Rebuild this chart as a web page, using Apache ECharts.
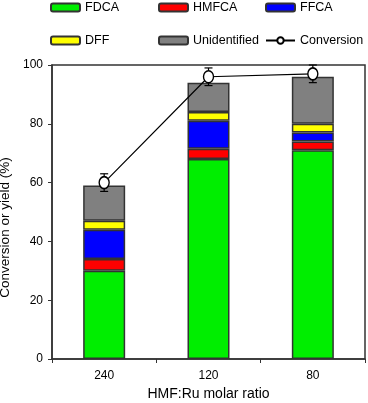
<!DOCTYPE html>
<html>
<head>
<meta charset="utf-8">
<script src="https://cdn.jsdelivr.net/npm/echarts@6/dist/echarts.min.js"></script>
<style>
  html, body { margin: 0; padding: 0; background: #fff; }
  #chart { width: 368px; height: 403px; }
</style>
</head>
<body>
<div id="chart"></div>
<script>
const ratios = ['240', '120', '80'];
const fdca = [30, 68, 71];
const hmfca = [4, 3.5, 3];
const ffca = [10, 9.5, 3];
const dff = [3, 3, 3];
const unidentified = [12, 10, 16];
const conversion = [60, 96, 97];
const conversionErr = [3, 3, 3];
const yTicks = [0, 20, 40, 60, 80, 100];

const font = 'Liberation Sans, Arial, Helvetica, sans-serif';
const edge = '#333';

function barSeries(name, color, data) {
  return {
    name: name,
    type: 'bar',
    stack: 'yield',
    barWidth: 42,
    data: data,
    itemStyle: { color: color, borderColor: edge, borderWidth: 1.5 },
    z: 2
  };
}

function legendAt(name, left, top) {
  return {
    data: [name],
    left: left,
    top: top,
    itemWidth: 29,
    itemHeight: 8,
    itemGap: 0,
    padding: 0,
    selectedMode: false,
    textStyle: { fontFamily: font, fontSize: 12.5, color: '#000' }
  };
}

const chart = echarts.init(document.getElementById('chart'), null, { renderer: 'canvas' });
chart.setOption({
  animation: false,
  backgroundColor: '#fff',
  legend: [
    legendAt('FDCA', 50, 1),
    legendAt('HMFCA', 158, 1),
    legendAt('FFCA', 265, 1),
    legendAt('DFF', 50, 34),
    legendAt('Unidentified', 158, 34),
    legendAt('Conversion', 265, 34)
  ],
  grid: {
    left: 52, right: 3, top: 65, bottom: 44,
    outerBoundsMode: 'none',
    containLabel: false,
    show: true, borderColor: edge, borderWidth: 1.5, backgroundColor: 'transparent'
  },
  xAxis: {
    type: 'category',
    data: ratios,
    boundaryGap: true,
    name: 'HMF:Ru molar ratio',
    nameLocation: 'middle',
    nameGap: 27,
    nameTextStyle: { fontFamily: font, fontSize: 14, color: '#000' },
    axisLine: { lineStyle: { color: edge, width: 1.5 } },
    axisTick: { show: true, alignWithLabel: false, length: 4, lineStyle: { color: edge } },
    axisLabel: { fontFamily: font, fontSize: 12, color: '#000', margin: 11 },
    splitLine: { show: false }
  },
  yAxis: {
    type: 'value',
    min: yTicks[0],
    max: yTicks[yTicks.length - 1],
    interval: yTicks[1] - yTicks[0],
    name: 'Conversion or yield (%)',
    nameLocation: 'middle',
    nameGap: 34,
    nameTextStyle: { fontFamily: font, fontSize: 13.5, color: '#000', padding: [0, 31, 0, 0] },
    axisLine: { show: true, lineStyle: { color: edge, width: 1.5 } },
    axisTick: { show: true, length: 4, lineStyle: { color: edge } },
    axisLabel: { fontFamily: font, fontSize: 12, color: '#000', margin: 9 },
    splitLine: { show: false }
  },
  series: [
    barSeries('FDCA', '#00ee00', fdca),
    barSeries('HMFCA', '#ff0000', hmfca),
    barSeries('FFCA', '#0000ff', ffca),
    barSeries('DFF', '#ffff00', dff),
    barSeries('Unidentified', '#808080', unidentified),
    {
      name: 'errors',
      type: 'custom',
      z: 3,
      data: conversion.map((v, i) => [i, v - conversionErr[i], v + conversionErr[i]]),
      renderItem: function (params, api) {
        const lo = api.coord([api.value(0), api.value(1)]);
        const hi = api.coord([api.value(0), api.value(2)]);
        const cap = 4;
        const style = { stroke: '#000', lineWidth: 1.2 };
        return {
          type: 'group',
          children: [
            { type: 'line', shape: { x1: lo[0], y1: lo[1], x2: hi[0], y2: hi[1] }, style: style },
            { type: 'line', shape: { x1: lo[0] - cap, y1: lo[1], x2: lo[0] + cap, y2: lo[1] }, style: style },
            { type: 'line', shape: { x1: hi[0] - cap, y1: hi[1], x2: hi[0] + cap, y2: hi[1] }, style: style }
          ]
        };
      }
    },
    {
      name: 'Conversion',
      type: 'line',
      data: conversion,
      z: 4,
      symbol: 'circle',
      symbolSize: [10, 12],
      showAllSymbol: true,
      lineStyle: { color: '#000', width: 1.2 },
      itemStyle: { color: '#fff', borderColor: '#000', borderWidth: 1.5 }
    }
  ]
});
</script>
</body>
</html>
